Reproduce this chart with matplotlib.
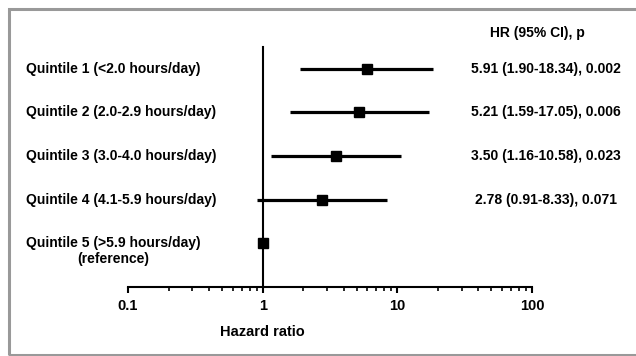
import matplotlib
matplotlib.use('Agg')
import matplotlib.pyplot as plt
import matplotlib.transforms as mtransforms
from matplotlib.patches import Rectangle
import numpy as np

# Data
labels = ['Quintile 1 (<2.0 hours/day)',
          'Quintile 2 (2.0-2.9 hours/day)',
          'Quintile 3 (3.0-4.0 hours/day)',
          'Quintile 4 (4.1-5.9 hours/day)',
          'Quintile 5 (>5.9 hours/day)\n(reference)']
hr = [5.91, 5.21, 3.50, 2.78, 1.0]
ci_low = [1.90, 1.59, 1.16, 0.91, 1.0]
ci_high = [18.34, 17.05, 10.58, 8.33, 1.0]
hr_text = ['5.91 (1.90-18.34), 0.002',
           '5.21 (1.59-17.05), 0.006',
           '3.50 (1.16-10.58), 0.023',
           '2.78 (0.91-8.33), 0.071',
           '']
header = 'HR (95% CI), p'

plt.rcParams['font.family'] = 'Liberation Sans'
plt.rcParams['font.weight'] = 'bold'
plt.rcParams['font.size'] = 10

fig = plt.figure(figsize=(6.36, 3.56), dpi=100)
ax = fig.add_axes([128 / 636, 1 - 287 / 356, 404 / 636, 240 / 356])

rows = np.arange(1, len(labels) + 1)
hr = np.array(hr)
err = [hr - np.array(ci_low), np.array(ci_high) - hr]
ax.errorbar(hr, rows, xerr=err, fmt='s', color='black', ms=7.5,
            elinewidth=2.3, capsize=0, zorder=3)

ax.set_xscale('log')
ax.set_xlim(0.1, 100)
ax.set_ylim(6, 0.5)
ax.set_xticks([0.1, 1, 10, 100])
ax.set_xticklabels(['0.1', '1', '10', '100'])
ax.set_yticks([])

for s in ['top', 'right']:
    ax.spines[s].set_visible(False)
ax.spines['left'].set_position(('data', 1))
ax.spines['left'].set_linewidth(1.5)
ax.spines['bottom'].set_linewidth(1.5)
ax.tick_params(axis='x', which='major', length=4.5, width=1.5, pad=4.5,
               labelsize=10.5)
ax.tick_params(axis='x', which='minor', length=3, width=1.2)

ax.set_xlabel('Hazard ratio', fontsize=10.5, fontweight='bold')
xc = (np.log10(1) - np.log10(0.1)) / (np.log10(100) - np.log10(0.1))
ax.xaxis.set_label_coords(xc, -0.16)

# row labels on the left, results on the right
tr = mtransforms.blended_transform_factory(fig.transFigure, ax.transData)
for r, lab, t in zip(rows, labels, hr_text):
    if '\n' in lab:
        ax.annotate(lab, xy=(26 / 636, r), xycoords=tr, xytext=(0, 5),
                    textcoords='offset points', ha='left', va='top',
                    multialignment='center', linespacing=1.12)
    else:
        ax.text(26 / 636, r, lab, transform=tr, ha='left', va='center')
    if t:
        ax.text(546 / 636, r, t, transform=tr, ha='center', va='center')
fig.text(537 / 636, 1 - 33 / 356, header, ha='center', va='center')

# grey frame (open on the right)
fig.patches.append(Rectangle((8.5 / 636, 1.5 / 356), 1.2, 1 - 10 / 356,
                             transform=fig.transFigure, fill=False,
                             edgecolor='#999999', linewidth=2.2))

fig.savefig('out.png', dpi=100)
